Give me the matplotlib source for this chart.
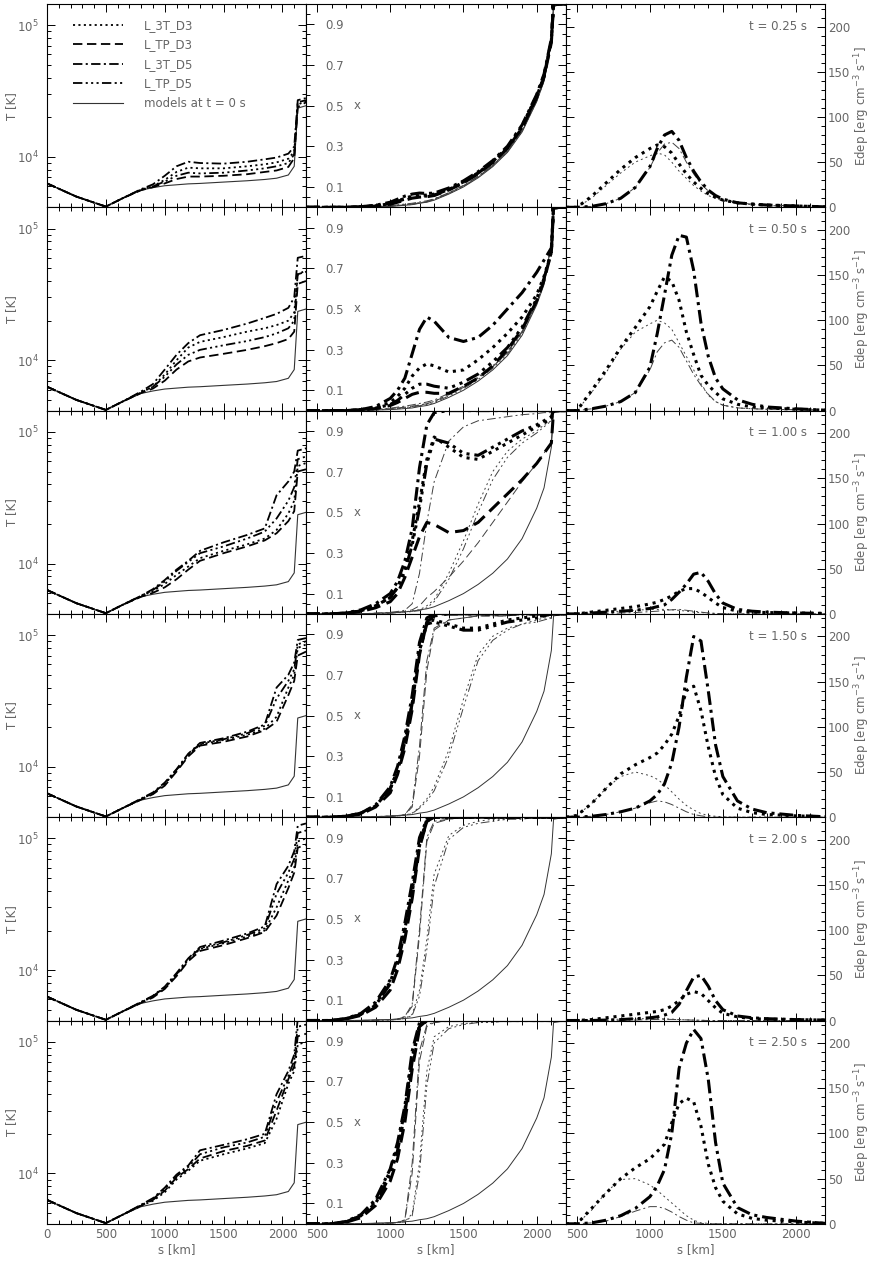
import matplotlib.pyplot as plt
import matplotlib.transforms as mtransforms
from matplotlib.ticker import MultipleLocator, FixedLocator, NullFormatter

plt.rcParams['font.family'] = ['DejaVu Sans']
plt.rcParams['lines.scale_dashes'] = False
plt.rcParams['xtick.direction'] = 'in'
plt.rcParams['ytick.direction'] = 'in'
TXT = '0.4'
FS = 8.5

times = ['0.25', '0.50', '1.00', '1.50', '2.00', '2.50']
models = ['L_3T_D3', 'L_TP_D3', 'L_3T_D5', 'L_TP_D5']

# ---- left column: temperature [K] ----
s_T = [0, 250, 500, 650, 800, 900, 1000, 1100, 1200, 1300, 1500, 1700, 1850, 1950, 2050, 2100, 2130, 2200]
T_init = [6300, 5000, 4200, 4900, 5600, 5850, 6050, 6150, 6250, 6300, 6450, 6600, 6750, 6900, 7300, 8500, 23500, 24500]
T_3T_D3 = [
    [6300, 5000, 4200, 4900, 5650, 6000, 6700, 7700, 8300, 8200, 8200, 8500, 8800, 9100, 9700, 11000, 25000, 26500],
    [6300, 5000, 4200, 4900, 5700, 6300, 7800, 10000, 12500, 13800, 15000, 16500, 17500, 18500, 20000, 23000, 45000, 48000],
    [6300, 5000, 4200, 4900, 5650, 6200, 7000, 8200, 9500, 11000, 12500, 14000, 15500, 18000, 24000, 30000, 55000, 58000],
    [6300, 5000, 4200, 4900, 5700, 6300, 7400, 9400, 12300, 14800, 16000, 17500, 19500, 24000, 40000, 50000, 80000, 85000],
    [6300, 5000, 4200, 4900, 5700, 6300, 7300, 9200, 12000, 14500, 16000, 18000, 20000, 30000, 48000, 60000, 95000, 100000],
    [6300, 5000, 4200, 4900, 5700, 6200, 7200, 9000, 10500, 12500, 14000, 15500, 17000, 26000, 48000, 60000, 95000, 100000],
]
T_TP_D3 = [
    [6300, 5000, 4200, 4900, 5600, 5900, 6300, 6800, 7100, 7100, 7200, 7400, 7700, 7900, 8400, 9800, 24000, 26000],
    [6300, 5000, 4200, 4900, 5650, 6100, 7000, 8500, 9800, 10500, 11200, 12000, 12800, 13500, 14500, 16500, 38000, 40000],
    [6300, 5000, 4200, 4900, 5600, 6000, 6600, 7600, 9000, 10500, 12000, 13500, 15000, 17000, 21000, 25000, 50000, 52000],
    [6300, 5000, 4200, 4900, 5650, 6200, 7200, 9200, 12000, 14500, 15500, 17000, 19000, 22000, 35000, 45000, 70000, 75000],
    [6300, 5000, 4200, 4900, 5650, 6200, 7200, 9000, 11700, 14000, 15500, 17500, 19500, 26000, 42000, 55000, 85000, 90000],
    [6300, 5000, 4200, 4900, 5700, 6300, 7400, 9300, 10800, 13000, 14800, 16200, 17800, 30000, 52000, 65000, 110000, 115000],
]
T_3T_D5 = [
    [6300, 5000, 4200, 4900, 5700, 6200, 7200, 8500, 9200, 9000, 8900, 9200, 9600, 9900, 10600, 12000, 27000, 28000],
    [6300, 5000, 4200, 4900, 5800, 6600, 8500, 11000, 13500, 15500, 17000, 19000, 21000, 22500, 25000, 30000, 60000, 62000],
    [6300, 5000, 4200, 4900, 5700, 6400, 7500, 9000, 10500, 12500, 14500, 16500, 18500, 33000, 42000, 50000, 72000, 75000],
    [6300, 5000, 4200, 4900, 5750, 6400, 7600, 9600, 12600, 15200, 16500, 18500, 21000, 40000, 50000, 62000, 92000, 95000],
    [6300, 5000, 4200, 4900, 5750, 6400, 7500, 9500, 12300, 15000, 16800, 19000, 21500, 45000, 62000, 80000, 125000, 130000],
    [6300, 5000, 4200, 4900, 5800, 6500, 7800, 9800, 11500, 15000, 16500, 18200, 20000, 40000, 60000, 80000, 150000, 160000],
]
T_TP_D5 = [
    [6300, 5000, 4200, 4900, 5650, 6000, 6500, 7200, 7600, 7500, 7600, 7900, 8200, 8500, 9000, 10500, 26000, 27000],
    [6300, 5000, 4200, 4900, 5700, 6300, 7500, 9300, 11000, 12000, 13000, 14000, 15000, 16000, 17500, 20000, 45000, 47000],
    [6300, 5000, 4200, 4900, 5700, 6300, 7300, 8800, 10300, 12000, 13500, 15500, 17500, 22000, 30000, 38000, 62000, 65000],
    [6300, 5000, 4200, 4900, 5700, 6300, 7500, 9500, 12400, 15000, 16200, 18000, 20500, 33000, 45000, 55000, 85000, 90000],
    [6300, 5000, 4200, 4900, 5700, 6350, 7400, 9300, 12100, 14700, 16300, 18500, 20800, 38000, 55000, 70000, 110000, 115000],
    [6300, 5000, 4200, 4900, 5750, 6400, 7600, 9500, 11200, 14000, 15800, 17200, 19000, 35000, 55000, 72000, 130000, 135000],
]

# ---- middle column: ionisation fraction x ----
s_x = [425, 600, 700, 800, 900, 1000, 1050, 1100, 1150, 1200, 1250, 1300, 1400, 1500, 1600, 1700, 1800, 1900, 2000, 2050, 2100, 2115, 2200]
x_init = [0, 0, 0, 0.001, 0.003, 0.005, 0.007, 0.01, 0.013, 0.02, 0.025, 0.035, 0.065, 0.1, 0.145, 0.2, 0.27, 0.37, 0.52, 0.62, 0.82, 0.99, 1.0]
x_3T_D3 = [
    [0, 0, 0, 0.003, 0.008, 0.02, 0.03, 0.045, 0.055, 0.06, 0.06, 0.065, 0.09, 0.125, 0.17, 0.225, 0.295, 0.4, 0.55, 0.65, 0.82, 1.0, 1.0],
    [0, 0, 0, 0.005, 0.015, 0.04, 0.07, 0.11, 0.17, 0.21, 0.23, 0.22, 0.19, 0.2, 0.25, 0.31, 0.38, 0.46, 0.57, 0.66, 0.78, 1.0, 1.0],
    [0, 0, 0.004, 0.015, 0.04, 0.08, 0.13, 0.22, 0.36, 0.55, 0.76, 0.87, 0.82, 0.77, 0.76, 0.8, 0.84, 0.88, 0.92, 0.94, 0.96, 1.0, 1.0],
    [0, 0, 0.005, 0.02, 0.055, 0.14, 0.23, 0.37, 0.56, 0.82, 0.96, 0.97, 0.95, 0.93, 0.93, 0.95, 0.97, 0.98, 0.99, 0.99, 1.0, 1.0, 1.0],
    [0, 0, 0.01, 0.03, 0.08, 0.19, 0.29, 0.45, 0.64, 0.87, 0.99, 1.0, 1.0, 1.0, 1.0, 1.0, 1.0, 1.0, 1.0, 1.0, 1.0, 1.0, 1.0],
    [0, 0, 0.01, 0.04, 0.11, 0.26, 0.38, 0.56, 0.82, 0.98, 1.0, 1.0, 1.0, 1.0, 1.0, 1.0, 1.0, 1.0, 1.0, 1.0, 1.0, 1.0, 1.0],
]
x_TP_D3 = [
    [0, 0, 0, 0.002, 0.006, 0.015, 0.025, 0.035, 0.045, 0.05, 0.052, 0.058, 0.085, 0.12, 0.165, 0.22, 0.29, 0.39, 0.54, 0.64, 0.81, 1.0, 1.0],
    [0, 0, 0, 0.003, 0.01, 0.025, 0.04, 0.06, 0.08, 0.09, 0.09, 0.085, 0.085, 0.12, 0.16, 0.22, 0.3, 0.4, 0.54, 0.64, 0.78, 1.0, 1.0],
    [0, 0, 0.003, 0.012, 0.03, 0.06, 0.1, 0.18, 0.28, 0.38, 0.45, 0.44, 0.4, 0.41, 0.45, 0.52, 0.59, 0.66, 0.74, 0.79, 0.84, 1.0, 1.0],
    [0, 0, 0.004, 0.015, 0.05, 0.12, 0.21, 0.34, 0.53, 0.8, 0.96, 0.99, 1.0, 1.0, 1.0, 1.0, 1.0, 1.0, 1.0, 1.0, 1.0, 1.0, 1.0],
    [0, 0, 0.008, 0.025, 0.065, 0.15, 0.25, 0.4, 0.6, 0.85, 0.98, 1.0, 1.0, 1.0, 1.0, 1.0, 1.0, 1.0, 1.0, 1.0, 1.0, 1.0, 1.0],
    [0, 0, 0.008, 0.03, 0.09, 0.21, 0.32, 0.5, 0.76, 0.96, 1.0, 1.0, 1.0, 1.0, 1.0, 1.0, 1.0, 1.0, 1.0, 1.0, 1.0, 1.0, 1.0],
]
x_3T_D5 = [
    [0, 0, 0, 0.003, 0.01, 0.025, 0.04, 0.055, 0.065, 0.07, 0.068, 0.07, 0.095, 0.13, 0.175, 0.23, 0.3, 0.405, 0.555, 0.655, 0.83, 1.0, 1.0],
    [0, 0, 0, 0.005, 0.02, 0.06, 0.1, 0.16, 0.28, 0.4, 0.46, 0.44, 0.36, 0.34, 0.36, 0.42, 0.5, 0.58, 0.68, 0.74, 0.8, 1.0, 1.0],
    [0, 0, 0.005, 0.02, 0.05, 0.1, 0.16, 0.26, 0.42, 0.72, 0.93, 0.99, 1.0, 1.0, 1.0, 1.0, 1.0, 1.0, 1.0, 1.0, 1.0, 1.0, 1.0],
    [0, 0, 0.005, 0.02, 0.06, 0.15, 0.25, 0.4, 0.6, 0.86, 0.98, 1.0, 1.0, 1.0, 1.0, 1.0, 1.0, 1.0, 1.0, 1.0, 1.0, 1.0, 1.0],
    [0, 0, 0.01, 0.035, 0.09, 0.2, 0.31, 0.48, 0.68, 0.9, 0.99, 1.0, 1.0, 1.0, 1.0, 1.0, 1.0, 1.0, 1.0, 1.0, 1.0, 1.0, 1.0],
    [0, 0, 0.012, 0.045, 0.12, 0.27, 0.4, 0.58, 0.85, 0.99, 1.0, 1.0, 1.0, 1.0, 1.0, 1.0, 1.0, 1.0, 1.0, 1.0, 1.0, 1.0, 1.0],
]
x_TP_D5 = [
    [0, 0, 0, 0.002, 0.007, 0.018, 0.03, 0.04, 0.05, 0.055, 0.055, 0.06, 0.088, 0.122, 0.168, 0.222, 0.292, 0.395, 0.545, 0.645, 0.82, 1.0, 1.0],
    [0, 0, 0, 0.004, 0.012, 0.03, 0.05, 0.08, 0.11, 0.13, 0.13, 0.12, 0.11, 0.14, 0.18, 0.24, 0.31, 0.41, 0.55, 0.65, 0.78, 1.0, 1.0],
    [0, 0, 0.004, 0.015, 0.04, 0.08, 0.13, 0.21, 0.34, 0.52, 0.74, 0.86, 0.84, 0.79, 0.78, 0.82, 0.86, 0.9, 0.93, 0.95, 0.97, 1.0, 1.0],
    [0, 0, 0.005, 0.02, 0.055, 0.14, 0.23, 0.37, 0.56, 0.82, 0.95, 0.96, 0.94, 0.92, 0.92, 0.94, 0.96, 0.97, 0.98, 0.99, 1.0, 1.0, 1.0],
    [0, 0, 0.009, 0.03, 0.075, 0.18, 0.28, 0.44, 0.63, 0.86, 0.98, 1.0, 1.0, 1.0, 1.0, 1.0, 1.0, 1.0, 1.0, 1.0, 1.0, 1.0, 1.0],
    [0, 0, 0.01, 0.04, 0.1, 0.24, 0.36, 0.54, 0.8, 0.97, 1.0, 1.0, 1.0, 1.0, 1.0, 1.0, 1.0, 1.0, 1.0, 1.0, 1.0, 1.0, 1.0],
]
# thin curves of the same models
xt_3T_D3 = [
    [0, 0, 0, 0.001, 0.003, 0.006, 0.009, 0.012, 0.016, 0.022, 0.028, 0.04, 0.07, 0.105, 0.15, 0.205, 0.275, 0.375, 0.525, 0.625, 0.82, 0.99, 1.0],
    [0, 0, 0, 0.001, 0.004, 0.008, 0.011, 0.015, 0.02, 0.027, 0.035, 0.045, 0.08, 0.115, 0.16, 0.215, 0.285, 0.385, 0.53, 0.63, 0.82, 0.99, 1.0],
    [0, 0, 0, 0, 0.002, 0.005, 0.008, 0.01, 0.015, 0.02, 0.04, 0.07, 0.2, 0.36, 0.54, 0.7, 0.8, 0.86, 0.9, 0.93, 0.95, 1.0, 1.0],
    [0, 0, 0, 0, 0.002, 0.005, 0.007, 0.01, 0.02, 0.05, 0.09, 0.15, 0.33, 0.58, 0.8, 0.89, 0.93, 0.95, 0.97, 0.98, 0.98, 1.0, 1.0],
    [0, 0, 0, 0, 0.001, 0.003, 0.005, 0.01, 0.03, 0.15, 0.4, 0.72, 0.91, 0.96, 0.98, 0.99, 0.99, 1.0, 1.0, 1.0, 1.0, 1.0, 1.0],
    [0, 0, 0, 0, 0.001, 0.003, 0.006, 0.01, 0.05, 0.3, 0.75, 0.92, 0.97, 0.985, 0.99, 0.995, 1.0, 1.0, 1.0, 1.0, 1.0, 1.0, 1.0],
]
xt_TP_D3 = [
    [0, 0, 0, 0.001, 0.003, 0.006, 0.009, 0.012, 0.016, 0.022, 0.028, 0.04, 0.07, 0.106, 0.151, 0.206, 0.276, 0.376, 0.526, 0.626, 0.82, 0.99, 1.0],
    [0, 0, 0, 0.001, 0.004, 0.009, 0.013, 0.017, 0.022, 0.028, 0.034, 0.045, 0.078, 0.114, 0.16, 0.216, 0.286, 0.386, 0.532, 0.632, 0.82, 0.99, 1.0],
    [0, 0, 0, 0, 0.002, 0.005, 0.008, 0.012, 0.02, 0.04, 0.08, 0.11, 0.18, 0.26, 0.35, 0.45, 0.55, 0.65, 0.74, 0.79, 0.85, 1.0, 1.0],
    [0, 0, 0, 0, 0.003, 0.005, 0.008, 0.012, 0.05, 0.3, 0.72, 0.92, 0.97, 0.98, 0.99, 0.99, 0.99, 1.0, 1.0, 1.0, 1.0, 1.0, 1.0],
    [0, 0, 0, 0, 0.002, 0.004, 0.007, 0.018, 0.07, 0.42, 0.88, 0.97, 0.99, 1.0, 1.0, 1.0, 1.0, 1.0, 1.0, 1.0, 1.0, 1.0, 1.0],
    [0, 0, 0, 0, 0.002, 0.004, 0.007, 0.018, 0.25, 0.8, 0.97, 0.99, 1.0, 1.0, 1.0, 1.0, 1.0, 1.0, 1.0, 1.0, 1.0, 1.0, 1.0],
]
xt_3T_D5 = [
    [0, 0, 0, 0.001, 0.004, 0.008, 0.012, 0.016, 0.02, 0.026, 0.032, 0.042, 0.072, 0.108, 0.153, 0.208, 0.278, 0.38, 0.53, 0.63, 0.82, 0.99, 1.0],
    [0, 0, 0, 0.002, 0.006, 0.012, 0.017, 0.022, 0.028, 0.035, 0.042, 0.052, 0.085, 0.12, 0.165, 0.22, 0.29, 0.39, 0.535, 0.635, 0.82, 0.99, 1.0],
    [0, 0, 0, 0, 0.004, 0.008, 0.012, 0.018, 0.05, 0.2, 0.45, 0.65, 0.85, 0.92, 0.95, 0.96, 0.97, 0.98, 0.985, 0.99, 0.99, 1.0, 1.0],
    [0, 0, 0, 0, 0.003, 0.006, 0.008, 0.012, 0.06, 0.35, 0.77, 0.93, 0.97, 0.98, 0.99, 0.99, 0.99, 1.0, 1.0, 1.0, 1.0, 1.0, 1.0],
    [0, 0, 0, 0, 0.002, 0.004, 0.007, 0.02, 0.08, 0.45, 0.9, 0.98, 0.99, 1.0, 1.0, 1.0, 1.0, 1.0, 1.0, 1.0, 1.0, 1.0, 1.0],
    [0, 0, 0, 0, 0.002, 0.004, 0.007, 0.02, 0.3, 0.85, 0.98, 0.99, 1.0, 1.0, 1.0, 1.0, 1.0, 1.0, 1.0, 1.0, 1.0, 1.0, 1.0],
]
xt_TP_D5 = [
    [0, 0, 0, 0.001, 0.003, 0.005, 0.008, 0.011, 0.014, 0.021, 0.027, 0.038, 0.068, 0.103, 0.148, 0.203, 0.273, 0.373, 0.522, 0.622, 0.82, 0.99, 1.0],
    [0, 0, 0, 0.001, 0.003, 0.007, 0.01, 0.013, 0.017, 0.024, 0.03, 0.04, 0.072, 0.108, 0.153, 0.208, 0.278, 0.378, 0.527, 0.627, 0.82, 0.99, 1.0],
    [0, 0, 0, 0, 0.002, 0.004, 0.006, 0.008, 0.012, 0.016, 0.03, 0.06, 0.17, 0.32, 0.5, 0.66, 0.77, 0.84, 0.89, 0.92, 0.95, 1.0, 1.0],
    [0, 0, 0, 0, 0.002, 0.004, 0.006, 0.009, 0.018, 0.045, 0.08, 0.13, 0.3, 0.54, 0.77, 0.87, 0.92, 0.95, 0.96, 0.97, 0.98, 1.0, 1.0],
    [0, 0, 0, 0, 0.001, 0.003, 0.005, 0.009, 0.025, 0.12, 0.35, 0.66, 0.89, 0.95, 0.97, 0.98, 0.99, 0.99, 1.0, 1.0, 1.0, 1.0, 1.0],
    [0, 0, 0, 0, 0.001, 0.003, 0.005, 0.009, 0.04, 0.25, 0.68, 0.89, 0.96, 0.98, 0.99, 0.99, 1.0, 1.0, 1.0, 1.0, 1.0, 1.0, 1.0],
]

# ---- right column: energy deposition [erg cm^-3 s^-1] ----
s_E = [425, 500, 600, 700, 800, 900, 1000, 1050, 1100, 1150, 1200, 1250, 1300, 1350, 1400, 1450, 1500, 1600, 1700, 1800, 2000, 2200]
E_D3 = [
    [0, 0, 12, 27, 42, 55, 65, 69, 67, 60, 48, 37, 28, 21, 15, 11, 8, 5, 3.5, 2.5, 1.5, 0.5],
    [0, 0, 22, 45, 70, 92, 115, 132, 148, 143, 122, 87, 62, 39, 28, 20, 13, 7, 4, 3, 1.5, 0.5],
    [0, 0, 2, 4, 6, 8, 11, 13, 16, 20, 25, 28, 28, 24, 18, 12, 7, 3, 2, 1.5, 1, 0.5],
    [0, 2, 15, 32, 48, 58, 66, 71, 80, 92, 112, 140, 145, 118, 78, 45, 25, 10, 5, 3, 1.5, 0.5],
    [0, 0, 1, 3, 5, 7, 9, 10, 12, 16, 22, 29, 32, 30, 22, 14, 8, 4, 2, 1.5, 1, 0.5],
    [0, 0, 17, 34, 50, 62, 72, 80, 88, 112, 133, 139, 135, 108, 66, 40, 25, 11, 6, 4, 2, 0.5],
]
E_D5 = [
    [0, 0, 1, 4, 10, 22, 45, 65, 80, 84, 74, 55, 40, 28, 19, 13, 9, 5, 3.5, 2.5, 1.5, 0.5],
    [0, 0, 2, 5, 10, 20, 48, 85, 128, 172, 194, 192, 155, 97, 60, 36, 24, 12, 7, 4, 2, 0.5],
    [0, 0, 1, 2, 3, 4, 6, 8, 10, 16, 24, 33, 44, 46, 36, 22, 12, 5, 3, 2, 1, 0.5],
    [0, 0, 1, 3, 6, 10, 18, 25, 37, 60, 100, 155, 200, 195, 140, 80, 45, 18, 9, 5, 2, 0.5],
    [0, 0, 0, 0.5, 1, 2, 3, 4, 6, 9, 18, 33, 48, 50, 38, 22, 12, 5, 3, 2, 1, 0.5],
    [0, 0, 1, 4, 9, 17, 30, 42, 60, 100, 172, 200, 215, 205, 160, 90, 45, 18, 10, 7, 3, 0.5],
]
Et_D3 = [
    [0, 0, 10, 24, 38, 50, 57, 60, 58, 50, 40, 32, 24, 18, 13, 10, 7, 4, 3, 2, 1, 0.5],
    [0, 0, 20, 42, 68, 87, 96, 100, 97, 90, 75, 60, 45, 30, 17, 10, 6, 3, 2, 1.5, 1, 0.5],
    [0, 0, 1, 2, 3, 4, 5, 5, 5, 4.5, 4, 3, 2, 1.5, 1, 0.5, 0.3, 0, 0, 0, 0, 0],
    [0, 2, 15, 32, 45, 50, 46, 42, 36, 28, 20, 13, 8, 4, 2, 1, 0.5, 0, 0, 0, 0, 0],
    [0, 0, 0.5, 1, 1.5, 2, 2, 2, 1.8, 1.5, 1, 0.7, 0.5, 0.3, 0, 0, 0, 0, 0, 0, 0, 0],
    [0, 0, 15, 35, 49, 50, 43, 37, 30, 23, 16, 9, 4, 1, 0.5, 0, 0, 0, 0, 0, 0, 0],
]
Et_D5 = [
    [0, 0, 1, 4, 10, 22, 44, 60, 70, 72, 65, 50, 37, 26, 18, 12, 8, 5, 3.5, 2.5, 1.5, 0.5],
    [0, 0, 2, 5, 10, 20, 45, 65, 75, 78, 70, 55, 40, 28, 18, 10, 6, 3, 2, 1.5, 1, 0.5],
    [0, 0, 0, 0.5, 1, 1.5, 2.5, 3, 4, 4.5, 5, 4, 3, 2, 1, 0.5, 0.3, 0, 0, 0, 0, 0],
    [0, 0, 1, 3, 6, 10, 16, 18, 17, 14, 10, 6, 3, 1.5, 0.5, 0, 0, 0, 0, 0, 0, 0],
    [0, 0, 0, 0, 0.3, 0.5, 1, 1.2, 1.3, 1.2, 1, 0.7, 0.4, 0.2, 0, 0, 0, 0, 0, 0, 0, 0],
    [0, 0, 1, 3, 8, 14, 19, 19, 17, 13, 8, 4, 1, 0.5, 0, 0, 0, 0, 0, 0, 0, 0],
]

PAT = {'dot': (1, 1.6), 'dash': (4.5, 2.2), 'dashdot': (4.5, 1.6, 1, 1.6),
       'dash3dot': (4.5, 1.6, 1, 1.6, 1, 1.6, 1, 1.6)}
kinds = ['dot', 'dash', 'dashdot', 'dash3dot']


def pattern(kind, unit):
    return (0, tuple(v * unit for v in PAT[kind]))


T_models = [T_3T_D3, T_TP_D3, T_3T_D5, T_TP_D5]
x_thick = [x_3T_D3, x_TP_D3, x_3T_D5, x_TP_D5]
x_thin = [xt_3T_D3, xt_TP_D3, xt_3T_D5, xt_TP_D5]

W, H = 872, 1261
fig = plt.figure(figsize=(W / 100, H / 100), dpi=100)
col_left = [47, 306, 566]
col_width = [259, 260, 259]
top0, row_h = 4, 203.3


def style_ticks(ax):
    ax.tick_params(which='both', top=True, right=True, labelcolor=TXT, labelsize=FS, width=0.7)
    ax.tick_params(which='major', length=6)
    ax.tick_params(which='minor', length=3)
    for sp in ax.spines.values():
        sp.set_linewidth(0.8)


for r, t in enumerate(times):
    top = top0 + r * row_h
    axT, axX, axE = [fig.add_axes([col_left[c] / W, 1 - (top + row_h) / H, col_width[c] / W, row_h / H])
                     for c in range(3)]
    last = (r == len(times) - 1)

    # temperature
    h0, = axT.plot(s_T, T_init, color='0.2', lw=0.8, label='models at t = 0 s')
    handles = []
    for name, kind, data in zip(models, kinds, T_models):
        h, = axT.plot(s_T, data[r], color='k', lw=1.3, ls=pattern(kind, 1.5), label=name)
        handles.append(h)
    axT.set_yscale('log')
    axT.set_xlim(0, 2200)
    axT.set_ylim(4150, 1.45e5)
    axT.xaxis.set_major_locator(MultipleLocator(500))
    axT.xaxis.set_minor_locator(MultipleLocator(100))
    axT.yaxis.set_minor_formatter(NullFormatter())
    style_ticks(axT)
    axT.tick_params(axis='y', which='major', pad=6)
    axT.set_ylabel('T [K]', color=TXT, fontsize=FS)
    axT.yaxis.set_label_coords(-0.11, 0.5)
    if r == 0:
        axT.legend(handles + [h0], models + ['models at t = 0 s'], loc='upper left',
                   bbox_to_anchor=(0.06, 0.98), frameon=False, fontsize=FS, labelcolor=TXT,
                   handlelength=4.2, handletextpad=1.8, labelspacing=0.55)

    # ionisation fraction
    axX.plot(s_x, x_init, color='0.2', lw=0.7)
    for kind, thin in zip(kinds, x_thin):
        axX.plot(s_x, thin[r], color='0.25', lw=0.7, ls=pattern(kind, 1.4))
    for kind, thick in zip(kinds, x_thick):
        axX.plot(s_x, thick[r], color='k', lw=2.2, ls=pattern(kind, 2.2))
    axX.set_xlim(425, 2200)
    axX.set_ylim(0, 1)
    axX.xaxis.set_major_locator(MultipleLocator(500))
    axX.xaxis.set_minor_locator(MultipleLocator(100))
    axX.yaxis.set_major_locator(FixedLocator([0.1, 0.3, 0.5, 0.7, 0.9]))
    axX.yaxis.set_minor_locator(MultipleLocator(0.05))
    style_ticks(axX)
    axX.tick_params(axis='y', which='major', pad=-14)
    for lbl in axX.get_yticklabels():
        lbl.set_horizontalalignment('left')
    axX.text(0.185, 0.5, 'x', transform=mtransforms.blended_transform_factory(axX.transAxes, axX.transData),
             va='center', ha='left', color=TXT, fontsize=FS)

    # energy deposition
    axE.plot(s_E, Et_D3[r], color='0.25', lw=0.7, ls=pattern('dot', 1.4))
    axE.plot(s_E, Et_D5[r], color='0.25', lw=0.7, ls=pattern('dashdot', 1.4))
    axE.plot(s_E, E_D3[r], color='k', lw=2.2, ls=pattern('dot', 2.2))
    axE.plot(s_E, E_D5[r], color='k', lw=2.2, ls=pattern('dashdot', 2.2))
    axE.set_xlim(425, 2200)
    axE.set_ylim(0, 225)
    axE.xaxis.set_major_locator(MultipleLocator(500))
    axE.xaxis.set_minor_locator(MultipleLocator(100))
    axE.yaxis.set_major_locator(MultipleLocator(50))
    axE.yaxis.set_minor_locator(MultipleLocator(10))
    style_ticks(axE)
    axE.tick_params(axis='y', labelleft=False, labelright=True, pad=2)
    axE.yaxis.set_label_position('right')
    axE.set_ylabel('Edep [erg cm$^{-3}$ s$^{-1}$]', color=TXT, fontsize=FS)
    axE.yaxis.set_label_coords(1.105, 0.5)
    axE.text(0.93, 0.89, 't = ' + t + ' s', transform=axE.transAxes, ha='right', va='center',
             color=TXT, fontsize=FS)

    for ax in (axT, axX, axE):
        ax.tick_params(axis='x', labelbottom=last, pad=3)
        if last:
            ax.set_xlabel('s [km]', color=TXT, fontsize=FS)
            ax.xaxis.set_label_coords(0.5, -0.097)

fig.savefig('out.png', dpi=100)
